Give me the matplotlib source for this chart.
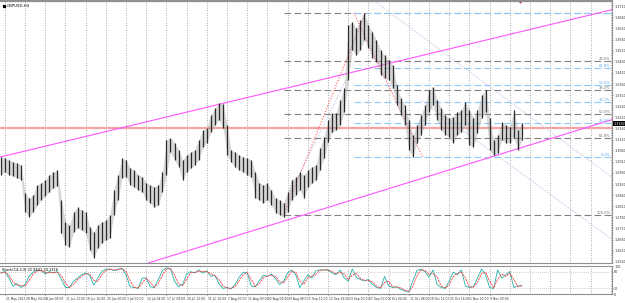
import matplotlib
matplotlib.use("Agg")
import matplotlib.pyplot as plt
import matplotlib.transforms as mtrans
import numpy as np
import pandas as pd

# ---------------- data (GBPUSD; one entry per trading day) ----------------
highs = [1.3032, 1.3027, 1.3018, 1.3009, 1.3005, 1.2996, 1.2870, 1.2847, 1.2861, 1.2906,
         1.2915, 1.2928, 1.2951, 1.2964, 1.2973, 1.2838, 1.2739, 1.2726, 1.2784, 1.2806,
         1.2793, 1.2784, 1.2717, 1.2694, 1.2726, 1.2739, 1.2748, 1.2771, 1.2883, 1.2951,
         1.3027, 1.3018, 1.2982, 1.2973, 1.2951, 1.2942, 1.2915, 1.2906, 1.2897, 1.2906,
         1.2964, 1.3108, 1.3117, 1.3095, 1.3063, 1.3018, 1.3041, 1.3054, 1.3063, 1.3108,
         1.3153, 1.3162, 1.3221, 1.3252, 1.3275, 1.3270, 1.3176, 1.3063, 1.3054, 1.3041,
         1.3032, 1.3027, 1.3018, 1.2964, 1.2915, 1.2906, 1.2915, 1.2883, 1.2847, 1.2838,
         1.2824, 1.2874, 1.2928, 1.2942, 1.2964, 1.2951, 1.2973, 1.2987, 1.2996, 1.3072,
         1.3122, 1.3198, 1.3230, 1.3230, 1.3288, 1.3342, 1.3626, 1.3639, 1.3612, 1.3648,
         1.3680, 1.3626, 1.3594, 1.3558, 1.3513, 1.3490, 1.3468, 1.3446, 1.3356, 1.3297,
         1.3266, 1.3198, 1.3131, 1.3176, 1.3221, 1.3266, 1.3333, 1.3347, 1.3288, 1.3252,
         1.3221, 1.3207, 1.3212, 1.3234, 1.3243, 1.3279, 1.3243, 1.3207, 1.3243, 1.3310,
         1.3333, 1.3207, 1.3108, 1.3131, 1.3189, 1.3176, 1.3167, 1.3243, 1.3153, 1.3185]
lows = [1.2951, 1.2964, 1.2951, 1.2946, 1.2937, 1.2928, 1.2784, 1.2762, 1.2784, 1.2815,
        1.2838, 1.2856, 1.2874, 1.2892, 1.2901, 1.2690, 1.2636, 1.2627, 1.2694, 1.2712,
        1.2703, 1.2690, 1.2613, 1.2577, 1.2622, 1.2645, 1.2658, 1.2667, 1.2771, 1.2838,
        1.2937, 1.2942, 1.2906, 1.2897, 1.2883, 1.2874, 1.2838, 1.2824, 1.2806, 1.2815,
        1.2874, 1.2951, 1.3054, 1.3018, 1.2987, 1.2928, 1.2964, 1.2982, 1.2996, 1.3018,
        1.3077, 1.3095, 1.3144, 1.3176, 1.3198, 1.3162, 1.3041, 1.3009, 1.2987, 1.2973,
        1.2964, 1.2951, 1.2942, 1.2847, 1.2838, 1.2824, 1.2838, 1.2815, 1.2780, 1.2771,
        1.2762, 1.2784, 1.2838, 1.2861, 1.2883, 1.2847, 1.2897, 1.2915, 1.2928, 1.2973,
        1.3027, 1.3099, 1.3144, 1.3153, 1.3176, 1.3234, 1.3378, 1.3513, 1.3490, 1.3513,
        1.3558, 1.3522, 1.3477, 1.3459, 1.3400, 1.3387, 1.3378, 1.3342, 1.3266, 1.3221,
        1.3176, 1.3063, 1.3032, 1.3095, 1.3131, 1.3176, 1.3234, 1.3266, 1.3198, 1.3153,
        1.3131, 1.3122, 1.3095, 1.3131, 1.3144, 1.3176, 1.3086, 1.3077, 1.3140, 1.3207,
        1.3234, 1.3063, 1.3041, 1.3050, 1.3108, 1.3095, 1.3095, 1.3117, 1.3063, 1.3108]
stoch_main = [75, 80, 57, 28, 37, 23, 34, 63, 78, 86,
              83, 71, 80, 75, 80, 52, 23, 23, 46, 57,
              69, 75, 67, 32, 57, 80, 89, 89, 83, 89,
              92, 69, 26, 23, 20, 57, 57, 26, 23, 52,
              83, 94, 89, 46, 26, 34, 71, 80, 75, 86,
              75, 83, 63, 67, 37, 20, 23, 18, 34, 60,
              78, 75, 28, 26, 48, 67, 63, 71, 55, 34,
              46, 75, 86, 69, 23, 46, 69, 57, 83, 86,
              86, 86, 75, 69, 86, 57, 46, 89, 60, 52,
              46, 52, 34, 23, 20, 63, 29, 23, 26, 17,
              11, 7, 46, 83, 89, 80, 60, 86, 34, 23,
              20, 46, 78, 69, 86, 29, 23, 26, 57, 89,
              69, 23, 20, 86, 57, 69, 80, 23, 29, 30]

x_labels = ["21 May 2017", "28 May 04:00", "4 Jun 08:00", "11 Jun 12:00", "18 Jun 16:00",
            "25 Jun 20:00", "3 Jul 00:00", "10 Jul 04:00", "17 Jul 08:00", "24 Jul 12:00",
            "31 Jul 16:00", "7 Aug 20:00", "15 Aug 00:00", "22 Aug 04:00", "29 Aug 08:00",
            "5 Sep 12:00", "12 Sep 16:00", "19 Sep 20:00", "27 Sep 00:00", "4 Oct 04:00",
            "11 Oct 08:00", "18 Oct 12:00", "25 Oct 16:00", "1 Nov 20:00", "9 Nov 00:00"]
price_ticks = [round(1.2560 + 0.005 * k, 4) for k in range(24)]

# drawn objects (anchor bar index, price)
upper_trend = [(0.0, 1.3032), (151.0, 1.3693)]
lower_trend = [(39.6, 1.2572), (151.0, 1.3198)]
fib_gray = {"start": (70.0, 1.2771), "end": (90.3, 1.3680)}      # 100% at low, 0% at high
fib_blue = {"start": (87.4, 1.3680), "end": (104.4, 1.3032)}     # 100% at high, 0% at low
fib_levels = [0.0, 23.6, 38.2, 50.0, 61.8, 100.0]
faint_lines = [[(92.1, 1.3738), (151.5, 1.2937)],
               [(104.0, 1.3288), (151.5, 1.2658)],
               [(70.8, 1.2838), (85.4, 1.3378)]]
hline_price = 1.3162
bid_price = 1.3182
stoch_text = "Stoch(14,3,3) 22.9141 24.1316"

# ---------------- figure ----------------
W, H = 625, 303
fig = plt.figure(figsize=(W / 100, H / 100), dpi=100)
fig.patch.set_facecolor("white")
axw = 612 / W
ax = fig.add_axes([0, 1 - 263 / H, axw, 262 / H])
ax2 = fig.add_axes([0, 1 - 294 / H, axw, 28 / H])

idx = np.arange(len(highs))
xmax = 151.3
ax.set_xlim(-0.2, xmax)
ax.set_ylim(1.25545, 1.37335)
ax2.set_xlim(-0.2, xmax)
ax2.set_ylim(0, 100)

grid_pos = np.arange(1, xmax, 5)
dot = (0, (1, 2))
for a in (ax, ax2):
    for g in grid_pos:
        a.axvline(g, color="#8c8c8c", lw=0.6, ls=dot, zorder=0)

# horizontal salmon line
ax.axhline(hline_price, color="#f5a3a3", lw=1.6, zorder=1)

# faint fan lines
for ln in faint_lines:
    (x1, y1), (x2, y2) = ln
    ax.plot([x1, x2], [y1, y2], color="#d4d4f2", lw=0.5, zorder=1)

# channel lines
for (p1, p2) in (upper_trend, lower_trend):
    ax.axline(p1, p2, color="#ff55ff", lw=0.8, zorder=3)

# fibonacci levels
trans_lbl = mtrans.blended_transform_factory(ax.transAxes, ax.transData)
gx0, glow = fib_gray["start"]
_, ghigh = fib_gray["end"]
for L in fib_levels:
    p = ghigh - L / 100 * (ghigh - glow)
    ax.plot([gx0, xmax], [p, p], color="#808080", lw=0.8, ls=(0, (6, 3)), zorder=2)
    if L > 0:
        ax.text(0.997, p, f"{L:.1f}%", transform=trans_lbl, ha="right", va="bottom",
                fontsize=2.6, color="#707070")
bx0, bhigh = fib_blue["start"]
_, blow = fib_blue["end"]
for L in fib_levels:
    p = blow + L / 100 * (bhigh - blow)
    ax.plot([bx0, xmax], [p, p], color="#8ec8fa", lw=0.8, ls=(0, (6, 3)), zorder=2)
    if L < 100:
        ax.text(0.997, p, f"{L:.1f}%", transform=trans_lbl, ha="right", va="bottom",
                fontsize=2.6, color="#5aa8f0")
# fib trend lines (red dotted)
for f in (fib_gray, fib_blue):
    (x1, y1), (x2, y2) = f["start"], f["end"]
    ax.plot([x1, x2], [y1, y2], color="#ff5a5a", lw=0.8, ls=(0, (1, 1.5)), zorder=2)

# price bars: grey range band plus dark bars
ax.fill_between(idx, lows, highs, color="#9a9a9a", alpha=0.4, lw=0, zorder=4)
ax.vlines(idx, lows, highs, color="#2a2a2a", lw=0.9, zorder=5)

# axes styling
for a in (ax, ax2):
    a.spines["left"].set_visible(False)
    for s in ("top", "bottom", "right"):
        a.spines[s].set_color("#909090")
        a.spines[s].set_linewidth(0.8)
    a.set_xticks([])
    a.yaxis.tick_right()
    a.tick_params(axis="y", length=1.0, width=0.4, color="#555555", pad=0.6,
                  labelsize=2.4, labelcolor="#333333")
ax.spines["top"].set_linewidth(1.6)
ax.set_yticks(price_ticks)
ax.set_yticklabels([f"{t:.4f}" for t in price_ticks])

# bid label
ax.text(1.002, bid_price, f"{bid_price:.4f}", transform=trans_lbl, ha="left", va="center",
        fontsize=2.4, color="white", clip_on=False,
        bbox=dict(boxstyle="square,pad=0.2", fc="black", ec="black", lw=0))

# symbol label
ax.plot([0.006], [0.982], marker="s", ms=1.4, color="black", transform=ax.transAxes, clip_on=False)
ax.text(0.011, 0.982, "GBPUSD,H4", transform=ax.transAxes, fontsize=2.8, va="center",
        ha="left", color="black")
# shift marker
ax.plot([idx[-1] - 0.5], [1.0], marker="v", ms=2.2, color="#cc2020",
        transform=mtrans.blended_transform_factory(ax.transData, ax.transAxes), clip_on=False)

# ---------------- stochastic ----------------
main = pd.Series(stoch_main, dtype=float)
signal = main.rolling(2, min_periods=1).mean()
ax2.plot(idx, main, color="#20b2aa", lw=0.6, zorder=3)
ax2.plot(idx, signal, color="#ff3030", lw=0.55, ls=(0, (3, 1)), zorder=4)
for lv in (20, 80):
    ax2.axhline(lv, color="#a0a0a0", lw=0.5, ls=dot, zorder=1)
ax2.set_yticks([0, 20, 80, 100])
ax2.set_yticklabels(["0", "20", "80", "100"])
ax2.text(0.004, 0.93, stoch_text, transform=ax2.transAxes, fontsize=2.6, va="top",
         ha="left", color="black")

# x labels
trans_x = mtrans.blended_transform_factory(ax2.transData, ax2.transAxes)
for g, lab in zip(grid_pos, x_labels):
    ax2.text(g + 0.2, -0.12, lab, transform=trans_x, ha="left", va="top", fontsize=2.15,
             color="#333333", clip_on=False)
    ax2.plot([g, g], [0, -0.05], transform=trans_x, color="#555555", lw=0.4, clip_on=False)

fig.savefig("out.png", dpi=100, facecolor="white")
